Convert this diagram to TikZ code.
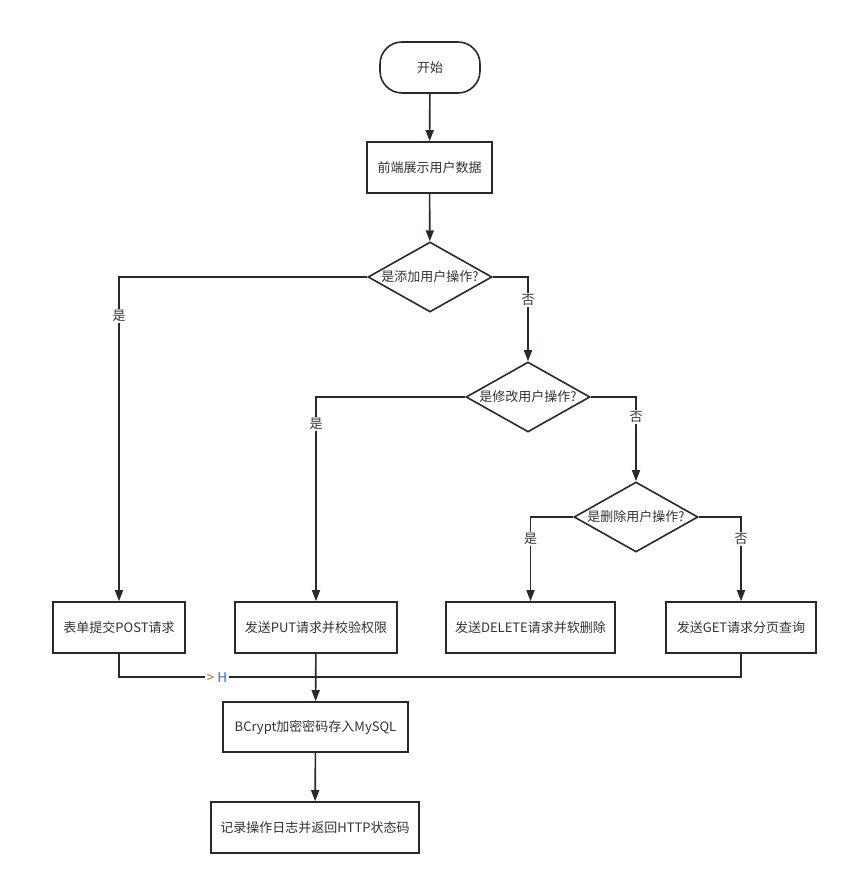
\documentclass[tikz,border=0pt]{standalone}
\usepackage{fontspec}
\setmainfont{Noto Sans CJK SC}
\usetikzlibrary{shapes.geometric,arrows.meta}
\definecolor{ln}{HTML}{262A2E}
\definecolor{txt}{HTML}{333333}
\definecolor{lblo}{HTML}{B86A1E}
\definecolor{lblb}{HTML}{2F6FC0}
\tikzset{
  base/.style={draw=ln, line width=1.6pt, fill=white, text=txt, font=\fontsize{13}{15}\selectfont, inner sep=0pt},
  proc/.style={base, rectangle, minimum height=51pt},
  term/.style={base, rectangle, rounded corners=22pt, minimum width=100pt, minimum height=51pt},
  dia/.style={base, diamond, minimum width=124pt, minimum height=70pt},
  dtext/.style={text=txt, font=\fontsize{13}{15}\selectfont, inner sep=0pt},
  conn/.style={draw=ln, line width=1.6pt},
  arr/.style={conn, -{Triangle[length=11pt,width=8pt]}},
  yn/.style={fill=white, text=txt, font=\fontsize{13}{15}\selectfont, inner sep=1.5pt}
}
\begin{document}
\begin{tikzpicture}[x=1pt,y=-1pt]
\useasboundingbox (0,0) rectangle (850,874);
\node[term] (start) at (430,67.5) {开始};
\node[proc, minimum width=125pt] (show) at (429.5,167.5) {前端展示用户数据};
\node[dia, label={[dtext]center:是添加用户操作?}] (d1) at (430,277) {};
\node[dia, label={[dtext]center:是修改用户操作?}] (d2) at (528,397) {};
\node[dia, label={[dtext]center:是删除用户操作?}] (d3) at (636,517) {};
\node[proc, minimum width=132pt] (post) at (119,627.5) {表单提交POST请求};
\node[proc, minimum width=162pt] (put) at (316,627.5) {发送PUT请求并校验权限};
\node[proc, minimum width=169pt] (del) at (530.5,627.5) {发送DELETE请求并软删除};
\node[proc, minimum width=150pt] (get) at (741,627.5) {发送GET请求分页查询};
\node[proc, minimum width=185pt, minimum height=50pt] (bc) at (315.5,727) {BCrypt加密密码存入MySQL};
\node[proc, minimum width=208pt] (log) at (315,827.5) {记录操作日志并返回HTTP状态码};

\draw[arr] (start) -- (show);
\draw[arr] (show) -- (d1);
\draw[arr] (d1.west) -| (post.north) node[pos=0.56, yn] {是};
\draw[arr] (d1.east) -| (d2.north) node[pos=0.635, yn] {否};
\draw[arr] (d2.west) -| (put.north) node[pos=0.566, yn] {是};
\draw[arr] (d2.east) -| (d3.north) node[pos=0.618, yn] {否};
\draw[arr] (d3.west) -| (del.north) node[pos=0.63, yn] {是};
\draw[arr] (d3.east) -| (get.north) node[pos=0.63, yn] {否};
\coordinate (mL) at (119,677);
\coordinate (mR) at (741,677);
\draw[conn] (post.south) -- (mL) -- (mR) -- (get.south);
\node[fill=white, inner sep=1.5pt, font=\fontsize{13.5}{15}\selectfont] (hl) at (217,677.5) {\textcolor{lblo}{>} \textcolor{lblb}{H}};
\draw[arr] (put) -- (bc);
\draw[arr] (bc) -- (log);
\end{tikzpicture}
\end{document}
